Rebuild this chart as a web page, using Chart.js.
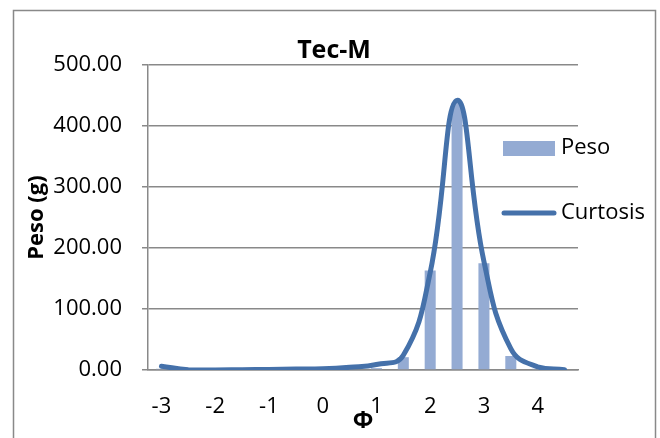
<!DOCTYPE html>
<html>
<head>
<meta charset="utf-8">
<script src="https://cdn.jsdelivr.net/npm/chart.js@4"></script>
<style>
  html, body { margin: 0; padding: 0; background: #fff; }
  #wrap { width: 660px; height: 438px; }
</style>
</head>
<body>
<div id="wrap"><canvas id="myChart" width="660" height="438"></canvas></div>
<script>
// phi classes (half phi steps)
const phi = ['-3', '-2.5', '-2', '-1.5', '-1', '-0.5', '0', '0.5', '1', '1.5', '2', '2.5', '3', '3.5', '4', '4.5'];
// weight retained per class (g)
const peso = [2, 0, 0, 0, 0, 0, 0, 0, 3, 21, 163, 438, 175, 23, 2, 0];
// smoothed curve
const curtosis = [6, 0.5, 0, 0.5, 1, 1.5, 2, 4.5, 9, 24, 160, 442, 178, 35, 5, 0.5];
const yTicks = [0, 100, 200, 300, 400, 500];

const chartTitle = 'Tec-M';
const gray = '#898989';
const barColor = '#94abd3';
const lineColor = '#4571aa';

Chart.defaults.font.family = "'Open Sans', sans-serif";
Chart.defaults.color = '#000';

// frame, title and legend drawn like the excel chart
const excelBits = {
    id: 'excelBits',
    beforeDraw(chart) {
        const c = chart.ctx;
        c.save();
        c.strokeStyle = gray;
        c.lineWidth = 1.5;
        c.strokeRect(13.5, 10.5, 642, 440);
        c.restore();
    },
    afterDraw(chart) {
        const c = chart.ctx;
        c.save();
        c.fillStyle = '#000';
        c.textAlign = 'center';
        c.textBaseline = 'middle';
        c.font = "bold 25px 'Open Sans'";
        c.fillText(chartTitle, 334, 51);

        const ds = chart.data.datasets;
        c.textAlign = 'left';
        c.font = "22px 'Open Sans'";
        // bar entry
        c.fillStyle = ds[0].backgroundColor;
        c.fillRect(503, 141, 52, 15);
        c.fillStyle = '#000';
        c.fillText(ds[0].label, 561, 148);
        // line entry
        c.strokeStyle = ds[1].borderColor;
        c.lineWidth = 5;
        c.lineCap = 'round';
        c.beginPath();
        c.moveTo(504, 213);
        c.lineTo(554, 213);
        c.stroke();
        c.fillText(ds[1].label, 561, 213);
        c.restore();
    }
};

const ctx = document.getElementById('myChart').getContext('2d');
const chart = new Chart(ctx, {
    type: 'bar',
    data: {
        labels: phi,
        datasets: [{
            type: 'bar',
            label: 'Peso',
            data: peso,
            backgroundColor: barColor,
            borderWidth: 0,
            barPercentage: 0.41,
            categoryPercentage: 1,
            order: 1
        }, {
            type: 'line',
            label: 'Curtosis',
            data: curtosis,
            borderColor: lineColor,
            borderWidth: 5,
            borderCapStyle: 'round',
            pointRadius: 0,
            tension: 0.45,
            fill: false,
            order: 0
        }]
    },
    options: {
        responsive: false,
        animation: false,
        layout: { padding: { left: 13, right: 82, top: 65, bottom: 0 } },
        plugins: {
            legend: { display: false },
            title: { display: false },
            tooltip: { enabled: false }
        },
        scales: {
            x: {
                grid: { display: false, drawTicks: false },
                border: { display: true, color: gray, width: 1.5 },
                ticks: {
                    autoSkip: false,
                    maxRotation: 0,
                    padding: 24,
                    font: { size: 22 },
                    callback: function (val, i) {
                        const l = phi[i];
                        return Number.isInteger(Number(l)) ? l : '';
                    }
                },
                title: {
                    display: true,
                    text: 'Φ',
                    font: { size: 24, weight: 'bold' },
                    padding: { top: 0, bottom: 2 }
                },
                afterFit(scale) { scale.height = 68; }
            },
            y: {
                min: 0,
                max: 500,
                afterBuildTicks(scale) { scale.ticks = yTicks.map(v => ({ value: v })); },
                grid: { color: gray, lineWidth: 1.5, tickLength: 6 },
                border: { display: true, color: gray, width: 1.5 },
                ticks: {
                    padding: 20,
                    font: { size: 22 },
                    callback: v => Number(v).toFixed(2)
                },
                title: {
                    display: true,
                    text: 'Peso (g)',
                    font: { size: 22, weight: 'bold' },
                    padding: { top: 11, bottom: 0 }
                },
                afterFit(scale) { scale.width = 135; }
            }
        }
    },
    plugins: [excelBits]
});
</script>
</body>
</html>
